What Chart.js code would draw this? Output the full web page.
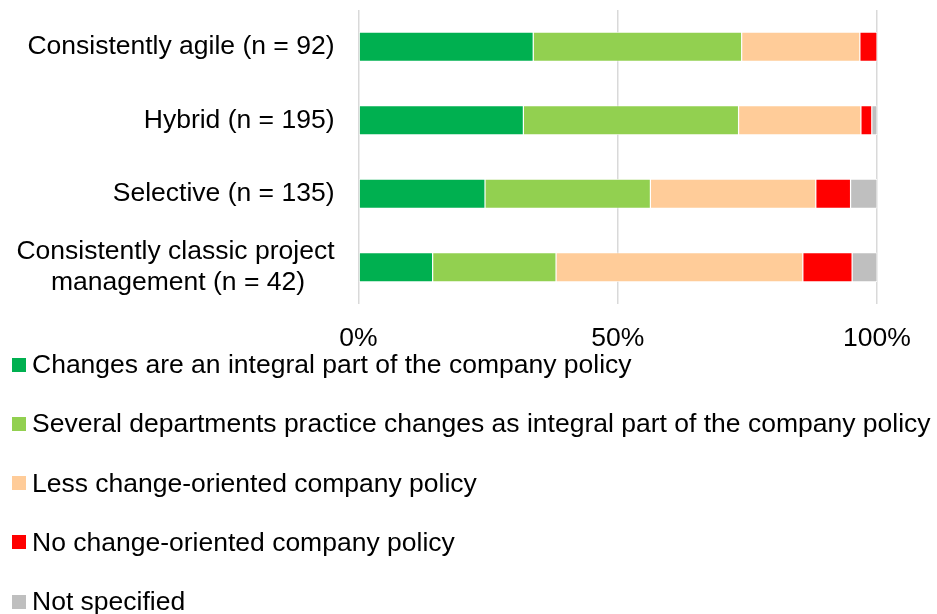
<!DOCTYPE html>
<html>
<head>
<meta charset="utf-8">
<script src="https://cdn.jsdelivr.net/npm/chart.js@4"></script>
<style>
  body { margin: 0; background: #fff; font-family: "Liberation Sans", Arial, sans-serif; }
  #wrap { position: relative; width: 937px; height: 355px; }
  #legend { position: absolute; left: 12px; top: 335px; }
  .item { display: flex; align-items: center; height: 59.25px; font-size: 26.5px; color: #000; white-space: nowrap; }
  .box { width: 14px; height: 14px; margin-right: 6px; }
</style>
</head>
<body>
<div id="wrap"><canvas id="myChart"></canvas></div>
<div id="legend"></div>
<script>
// categories (second line of the last one padded so it sits centred under the first)
var categories = [
  "Consistently agile (n = 92)",
  "Hybrid (n = 195)",
  "Selective (n = 135)",
  ["Consistently classic project", "management (n = 42)" + "\u00a0\u00a0\u00a0\u00a0"]
];

var seriesNames = [
  "Changes are an integral part of the company policy",
  "Several departments practice changes as integral part of the company policy",
  "Less change-oriented company policy",
  "No change-oriented company policy",
  "Not specified"
];

// percentages per category
var changesIntegral    = [33.7, 31.8, 24.4, 14.3];
var severalDepartments = [40.2, 41.5, 31.9, 23.8];
var lessChangeOriented = [22.8, 23.6, 31.9, 47.6];
var noChangeOriented   = [3.3, 2.1, 6.7, 9.5];
var notSpecified       = [0, 1.0, 5.1, 4.8];

var xTicks = [0, 50, 100];

var colors = ["#00b050", "#92d050", "#ffcc99", "#ff0000", "#bfbfbf"];
var values = [changesIntegral, severalDepartments, lessChangeOriented, noChangeOriented, notSpecified];

var fontFamily = '"Liberation Sans", Arial, sans-serif';

var ctx = document.getElementById("myChart").getContext('2d');
var myChart = new Chart(ctx, {
  type: 'bar',
  data: {
    labels: categories,
    datasets: values.map(function (v, i) {
      return {
        label: seriesNames[i],
        data: v,
        backgroundColor: colors[i],
        borderColor: "#ffffff",
        borderWidth: 0.6,
        borderSkipped: false,
        barPercentage: 0.5,
        categoryPercentage: 0.8
      };
    })
  },
  options: {
    indexAxis: 'y',
    responsive: true,
    maintainAspectRatio: false,
    animation: false,
    layout: { padding: { top: 10, right: 60, left: 16, bottom: 0 } },
    plugins: {
      legend: { display: false },
      tooltip: { enabled: false }
    },
    scales: {
      x: {
        stacked: true,
        min: 0,
        max: 100,
        afterBuildTicks: function (scale) {
          scale.ticks = xTicks.map(function (t) { return { value: t }; });
        },
        afterFit: function (scale) { scale.height = 51; },
        ticks: {
          color: "#000",
          padding: 19,
          maxRotation: 0,
          font: { family: fontFamily, size: 26.5 },
          callback: function (v) { return v + '%'; }
        },
        grid: { color: "#d9d9d9", lineWidth: 1.5, drawTicks: false },
        border: { display: false }
      },
      y: {
        stacked: true,
        afterFit: function (scale) {
          scale.width = 342.5;
          scale.paddingTop = 0;
          scale.paddingBottom = 0;
        },
        ticks: {
          color: "#000",
          padding: 24,
          autoSkip: false,
          font: { family: fontFamily, size: 26.5, lineHeight: 1.15 }
        },
        grid: { display: false, drawTicks: false },
        border: { display: false }
      }
    }
  }
});

// legend as a plain list under the chart
var legend = document.getElementById("legend");
seriesNames.forEach(function (name, i) {
  var row = document.createElement("div");
  row.className = "item";
  var box = document.createElement("span");
  box.className = "box";
  box.style.background = colors[i];
  row.appendChild(box);
  row.appendChild(document.createTextNode(name));
  legend.appendChild(row);
});
</script>
</body>
</html>
